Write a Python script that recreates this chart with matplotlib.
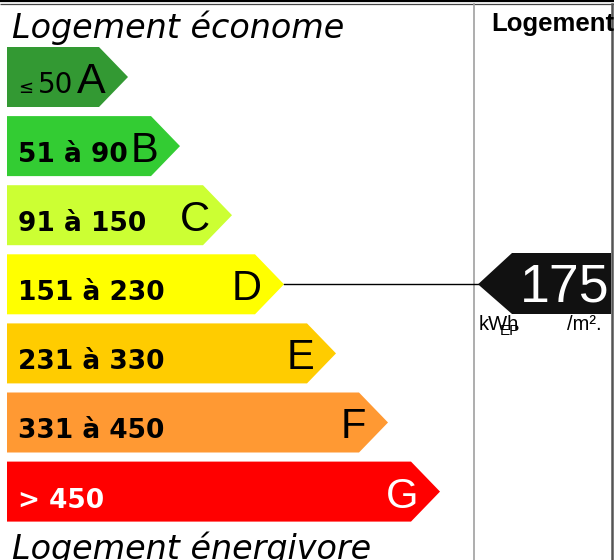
import matplotlib
matplotlib.use("Agg")
import matplotlib.pyplot as plt
from matplotlib.patches import Polygon, Rectangle

# ---- data ----
letters = ["A", "B", "C", "D", "E", "F", "G"]
ranges = ["50", "51 à 90", "91 à 150", "151 à 230", "231 à 330", "331 à 450", "> 450"]
colors = ["#339933", "#33cc33", "#ccff33", "#ffff00", "#ffcc00", "#ff9933", "#ff0000"]
value = 175
value_class = "D"
title_top = "Logement économe"
title_bottom = "Logement énergivore"
right_title = "Logement"
unit_main = "kWh"
unit_sub = "EP"
unit_tail = "/m²."

# ---- figure ----
W, H = 614, 560
fig = plt.figure(figsize=(W / 100, H / 100), dpi=100)
ax = fig.add_axes([0, 0, 1, 1])
ax.set_xlim(0, W)
ax.set_ylim(H, 0)
ax.axis("off")

LEFT = 7
TOP0 = 47
STEP = 69.1
BAR_H = 60
RECT0 = 99
RECT_STEP = 52
TIP = 29

clip = Rectangle((0, 0), 610.5, H, transform=ax.transData, visible=False)
ax.add_patch(clip)

tips = {}
for i, (L, r, c) in enumerate(zip(letters, ranges, colors)):
    top = TOP0 + STEP * i
    bot = top + BAR_H
    re = RECT0 + RECT_STEP * i
    mid = (top + bot) / 2
    ax.add_patch(Polygon([(LEFT, top), (re, top), (re + TIP, mid), (re, bot), (LEFT, bot)],
                         closed=True, facecolor=c, edgecolor="none"))
    tips[L] = (re + TIP, mid)
    tc = "white" if L == "G" else "black"
    base = top + 46
    if i == 0:
        ax.text(18, base, "≤", fontsize=13, family="DejaVu Sans", color=tc, va="baseline", ha="left")
        ax.text(38, base, r, fontsize=20, family="DejaVu Sans", color=tc, va="baseline", ha="left")
        ax.text(re + 7, base, L, fontsize=31, family="Liberation Sans", color=tc,
                va="baseline", ha="right")
    else:
        ax.text(18, base, r, fontsize=19, family="DejaVu Sans", fontweight="bold",
                color=tc, va="baseline", ha="left")
        ax.text(re + 7, base, L, fontsize=30, family="Liberation Sans", color=tc,
                va="baseline", ha="right")

# titles
ax.text(12, 38, title_top, fontsize=24, family="DejaVu Sans", style="italic",
        va="baseline", ha="left")
ax.text(12, 559, title_bottom, fontsize=24, family="DejaVu Sans", style="italic",
        va="baseline", ha="left")

# frame lines
ax.plot([0, W], [0.8, 0.8], color="black", lw=1.6, solid_capstyle="butt")
ax.plot([0, W], [3.6, 3.6], color="#444444", lw=0.9, solid_capstyle="butt")
ax.plot([474, 474], [4, H], color="#a0a0a0", lw=1.2)
ax.plot([611.5, 611.5], [4, H], color="#555555", lw=1.8)

# right panel
t = ax.text(491, 31, right_title, fontsize=18.5, family="Liberation Sans", fontweight="bold",
            va="baseline", ha="left")
t.set_clip_path(clip)

tx, ty = tips[value_class]
ax.plot([tx, 478], [ty, ty], color="black", lw=1.0)
arrow = Polygon([(478, ty), (512, 253), (611, 253), (611, 314), (512, 314)],
                closed=True, facecolor="#111111", edgecolor="none")
ax.add_patch(arrow)
t = ax.text(520, 302, str(value), fontsize=38.5, family="Liberation Sans", color="white",
            va="baseline", ha="left")
t.set_clip_path(clip)

ax.text(479, 330, unit_main, fontsize=14.5, family="Liberation Sans", va="baseline", ha="left")
ax.text(500, 335, unit_sub, fontsize=11, family="Liberation Sans", va="baseline", ha="left")
t = ax.text(567, 330, unit_tail, fontsize=14.5, family="Liberation Sans", va="baseline", ha="left")
t.set_clip_path(clip)

fig.savefig("out.png", dpi=100)
